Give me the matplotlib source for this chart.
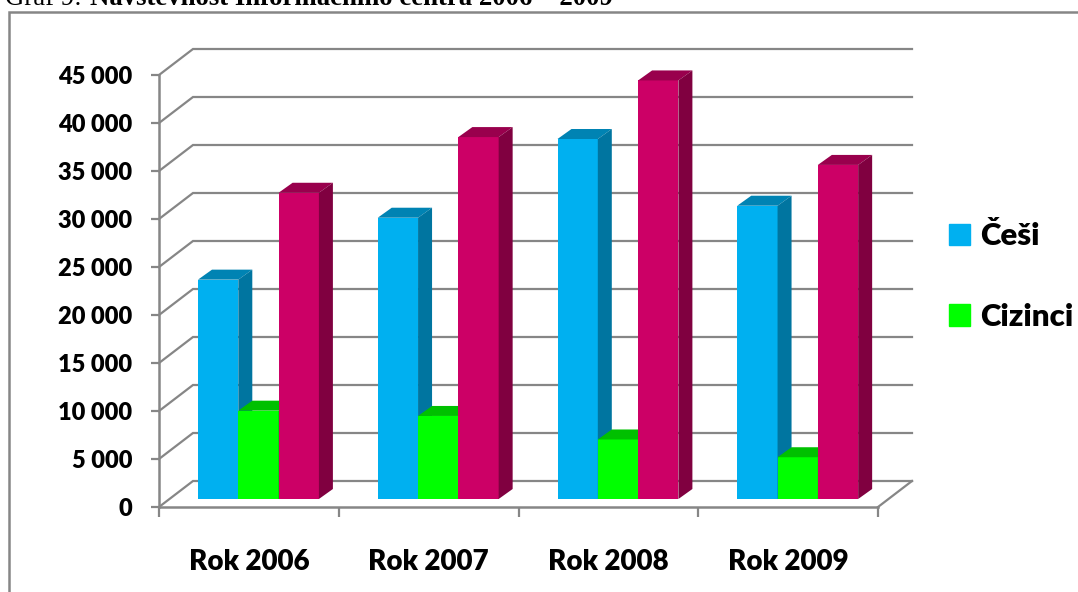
import matplotlib
matplotlib.use('Agg')
import matplotlib.pyplot as plt
from matplotlib.lines import Line2D
from matplotlib.patches import Patch, Polygon

years = ['Rok 2006', 'Rok 2007', 'Rok 2008', 'Rok 2009']
cesi = [22850, 29300, 37500, 30550]
cizinci = [9200, 8650, 6200, 4350]
third = [31900, 37700, 43600, 34800]
y_ticks = [0, 5000, 10000, 15000, 20000, 25000, 30000, 35000, 40000, 45000]
y_labels = ['0', '5 000', '10 000', '15 000', '20 000', '25 000', '30 000',
            '35 000', '40 000', '45 000']

W, H = 1078, 592
GRAY = '#868686'
# front colour, top colour, side colour
BLUE = ('#00B0F0', '#0083B3', '#0075A0')
GREEN = ('#00FF00', '#00C000', '#00A800')
MAGENTA = ('#CC0066', '#99004D', '#800040')

# pixel sizes converted to data units
PX_X = 4 / (878 - 159)
PX_Y = 45000 / (507 - 75)
WALL_DX, WALL_DY = 34 * PX_X, 26 * PX_Y
BAR_DX, BAR_DY = 14 * PX_X, 10 * PX_Y
BAR_W = 40.3 * PX_X
BAR_START = 39 * PX_X
BAR_BASE = 8 * PX_Y

plt.rcParams['font.family'] = ['Lato', 'DejaVu Sans']
fig = plt.figure(figsize=(W / 100, H / 100), dpi=100)
ax = fig.add_axes([159 / W, 1 - 507 / H, (878 - 159) / W, (507 - 75) / H])
ax.set_xlim(0, 4)
ax.set_ylim(0, 45000)
ax.patch.set_visible(False)

# back wall grid with the oblique part next to the axis
for v in y_ticks:
    ax.plot([0, WALL_DX, 4 + WALL_DX], [v, v + WALL_DY, v + WALL_DY],
            color=GRAY, lw=1.6, clip_on=False, zorder=1, solid_joinstyle='miter')
ax.plot([4, 4 + WALL_DX], [0, WALL_DY], color=GRAY, lw=1.6, clip_on=False, zorder=1)


def draw_bar(x, value, colors, zorder):
    top = BAR_BASE + value
    ax.bar(x, value, BAR_W, bottom=BAR_BASE, align='edge', color=colors[0],
           clip_on=False, zorder=zorder)
    ax.add_patch(Polygon([(x, top), (x + BAR_DX, top + BAR_DY),
                          (x + BAR_W + BAR_DX, top + BAR_DY), (x + BAR_W, top)],
                         fc=colors[1], ec='none', clip_on=False, zorder=zorder))
    ax.add_patch(Polygon([(x + BAR_W, BAR_BASE), (x + BAR_W + BAR_DX, BAR_BASE + BAR_DY),
                          (x + BAR_W + BAR_DX, top + BAR_DY), (x + BAR_W, top)],
                         fc=colors[2], ec='none', clip_on=False, zorder=zorder))


for i in range(len(years)):
    for j, (vals, colors) in enumerate(zip([cesi, cizinci, third], [BLUE, GREEN, MAGENTA])):
        draw_bar(i + BAR_START + j * BAR_W, vals[i], colors, 2 + j)

for side in ['top', 'right']:
    ax.spines[side].set_visible(False)
for side in ['left', 'bottom']:
    ax.spines[side].set_color(GRAY)
    ax.spines[side].set_linewidth(1.8)

ax.set_yticks(y_ticks)
ax.set_yticklabels(y_labels, fontsize=17, fontweight='heavy')
ax.tick_params(axis='y', length=6, width=1.6, color=GRAY, pad=13)
ax.set_xticks(range(5))
ax.set_xticklabels([])
ax.tick_params(axis='x', length=7.5, width=1.6, color=GRAY)
ax.set_xticks([i + 0.5 for i in range(4)], minor=True)
ax.set_xticklabels(years, minor=True, fontsize=20, fontweight='heavy')
ax.tick_params(axis='x', which='minor', length=0, pad=30.5)

fig.legend(handles=[Patch(color=BLUE[0], label='Češi'), Patch(color=GREEN[0], label='Cizinci')],
           loc='upper left', bbox_to_anchor=(949 / W, 1 - 222.5 / H), frameon=False,
           prop={'size': 22.5, 'weight': 'heavy'}, handlelength=0.67, handleheight=0.67,
           handletextpad=0.32, labelspacing=1.68, borderpad=0, borderaxespad=0)

# frame of the pasted chart, only left and top are visible
fig.add_artist(Line2D([9 / W, 9 / W, 1], [0, 1 - 12 / H, 1 - 12 / H], color=GRAY, lw=1.8,
                      solid_joinstyle='miter'))

fig.text(5 / W, 1 - 5 / H, 'Graf 9: ', family='Liberation Serif', fontsize=19.3, va='baseline')
fig.text(90 / W, 1 - 5 / H, 'Návštěvnost Informačního centra 2006 – 2009', family='Liberation Serif',
         fontsize=19.3, fontweight='bold', va='baseline')

fig.savefig('out.png', dpi=100)
